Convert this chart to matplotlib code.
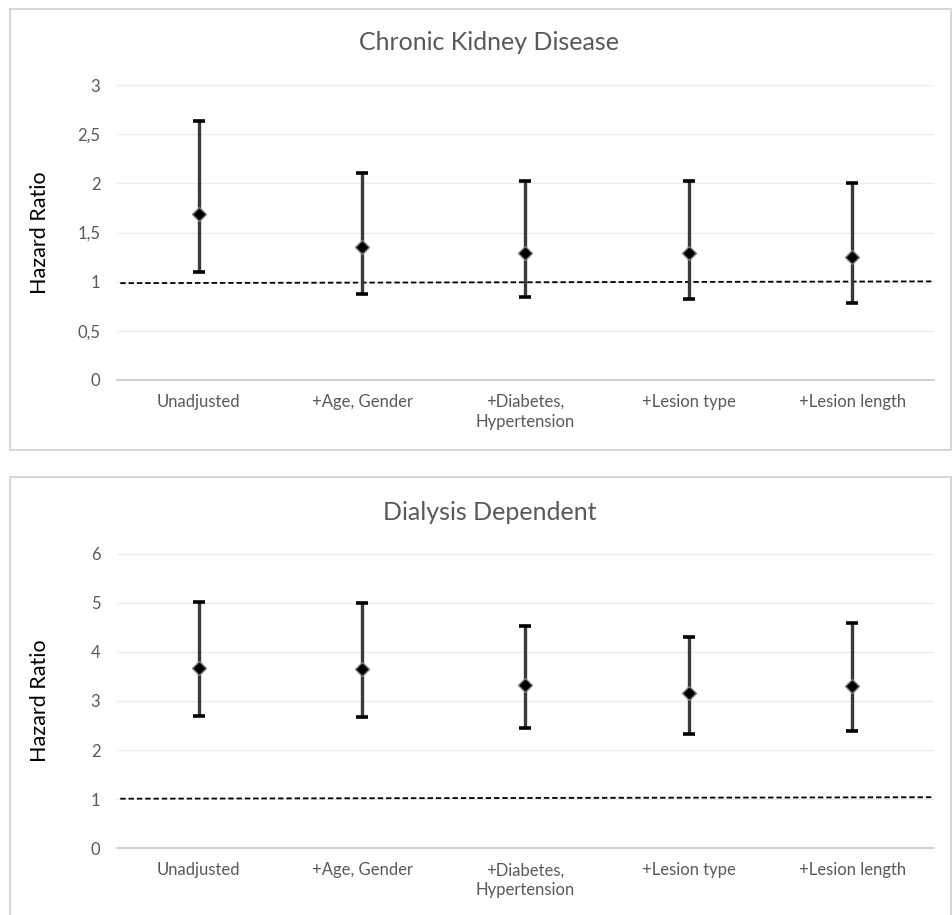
import numpy as np
import matplotlib.pyplot as plt
from matplotlib.patches import Rectangle
from matplotlib.ticker import FuncFormatter

plt.rcParams['font.family'] = ['Lato', 'DejaVu Sans']

### Data ###
categories = ['Unadjusted', '+Age, Gender', '+Diabetes,\nHypertension',
              '+Lesion type', '+Lesion length']

ckd_hr = [1.69, 1.35, 1.29, 1.29, 1.25]
ckd_low = [1.10, 0.875, 0.84, 0.82, 0.78]
ckd_high = [2.63, 2.11, 2.02, 2.02, 2.00]
ckd_ref = [0.985, 1.003]

dial_hr = [3.67, 3.65, 3.32, 3.16, 3.30]
dial_low = [2.70, 2.68, 2.44, 2.32, 2.39]
dial_high = [5.02, 5.00, 4.53, 4.30, 4.58]
dial_ref = [1.01, 1.04]

panels = [
    ("Chronic Kidney Disease", ckd_hr, ckd_low, ckd_high, ckd_ref, 3, 0.5),
    ("Dialysis Dependent", dial_hr, dial_low, dial_high, dial_ref, 6, 1),
]

### Plotting ###
fig = plt.figure(figsize=(9.52, 9.15), dpi=100)

# outer chart frames
fig.patches.append(Rectangle((10 / 952, 1 - 450 / 915), 941 / 952, 441 / 915,
                             transform=fig.transFigure, fill=False,
                             edgecolor='#d0d0d0', lw=1.2))
fig.patches.append(Rectangle((10 / 952, -0.01), 941 / 952, 1 - 477 / 915 + 0.01,
                             transform=fig.transFigure, fill=False,
                             edgecolor='#d0d0d0', lw=1.2))

ax_pos = [[0.1229, 0.5847, 0.858, 0.3224],
          [0.1229, 0.0729, 0.858, 0.3220]]
title_y = [1 - 43 / 915, 1 - 512 / 915]

x = np.arange(len(categories))

for i, (title, hr, low, high, ref, ymax, step) in enumerate(panels):
    ax = fig.add_axes(ax_pos[i])
    hr = np.array(hr)
    low = np.array(low)
    high = np.array(high)

    ax.errorbar(x, hr, yerr=[hr - low, high - hr], fmt='none',
                ecolor='#3a3a3a', elinewidth=2.4, capsize=0, zorder=3)
    # caps
    ax.errorbar(x, hr, yerr=[hr - low, high - hr], fmt='none',
                ecolor='black', elinewidth=0, capsize=4.2, capthick=2.6, zorder=3)
    ax.plot(x, hr, 'D', color='black', markersize=7,
            markeredgecolor='#808080', markeredgewidth=1, zorder=4)

    ax.plot([-0.48, 4.53], ref, '--', color='black', lw=1.3,
            dashes=(3, 1.6), zorder=2)

    ax.set_xlim(-0.5, 4.5)
    ax.set_ylim(0, ymax)
    ax.set_yticks(np.arange(0, ymax + step / 2, step))
    ax.yaxis.set_major_formatter(FuncFormatter(
        lambda v, p: ('%g' % v).replace('.', ',')))
    ax.set_xticks(x)
    ax.set_xticklabels(categories, linespacing=1.3)
    ax.grid(axis='y', color='#ececec', lw=1)
    ax.set_axisbelow(True)
    for s in ['top', 'right', 'left']:
        ax.spines[s].set_visible(False)
    ax.spines['bottom'].set_color('#c8c8c8')
    ax.spines['bottom'].set_linewidth(1.2)
    ax.tick_params(length=0, labelsize=12, labelcolor='#595959', pad=10)
    ax.tick_params(axis='y', pad=12)
    ax.set_ylabel('Hazard Ratio', fontsize=15.5, color='black')
    ax.yaxis.set_label_coords(-0.082, 0.5)

    fig.text(0.514, title_y[i], title, ha='center', va='center',
             fontsize=18, color='#595959')

plt.savefig('out.png', dpi=100)
